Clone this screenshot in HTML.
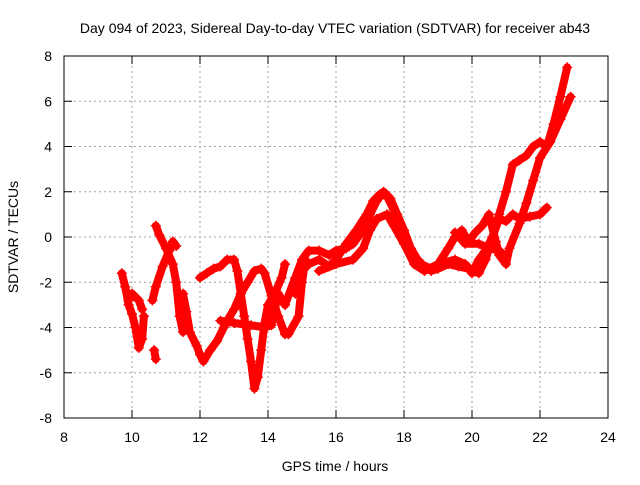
<!DOCTYPE html>
<html><head><meta charset="utf-8"><style>
body{margin:0;background:#fff;}
svg text{font-family:"Liberation Sans",sans-serif;font-size:14px;fill:#000;}
</style></head><body>
<svg id="chart" width="640" height="480" xmlns="http://www.w3.org/2000/svg">
<rect width="640" height="480" fill="#fff"/>
<g id="grid"></g>
<g id="series"></g>
<rect x="64" y="56" width="544" height="362" fill="none" stroke="#000" stroke-width="1"/>
<g id="ticks"></g>
<text x="335" y="33" text-anchor="middle">Day 094 of 2023, Sidereal Day-to-day VTEC variation (SDTVAR) for receiver ab43</text>
<text x="335" y="471" text-anchor="middle">GPS time / hours</text>
<text transform="translate(18,237) rotate(-90)" text-anchor="middle">SDTVAR / TECUs</text>
</svg>
<script>
const xTicks=[8,10,12,14,16,18,20,22,24];
const yTicks=[-8,-6,-4,-2,0,2,4,6,8];
const track1=[[9.7,-1.6],[9.8,-2.2],[9.9,-3],[10.0,-3.4],[10.1,-4.0],[10.2,-4.9],[10.3,-4.5],[10.35,-3.5]];
const track2=[[9.9,-2.8],[10.0,-2.5],[10.2,-2.8],[10.3,-3.2]];
const track3=[[10.6,-2.8],[10.7,-2.2],[10.9,-1.3],[11.1,-0.6],[11.2,-0.2],[11.3,-0.4]];
const track4=[[10.7,0.5],[10.8,0.1],[11.0,-0.5],[11.2,-1.2],[11.3,-2.0],[11.4,-3.5],[11.5,-4.2]];
const track5=[[10.65,-5.0],[10.7,-5.4]];
const track6=[[11.5,-2.5],[11.6,-3.3],[11.7,-4.2],[11.9,-4.8],[12.0,-5.2],[12.1,-5.5],[12.3,-5.0],[12.5,-4.6],[12.7,-4.0],[12.8,-3.7],[13.0,-3.2],[13.2,-2.5],[13.4,-2.0],[13.6,-1.5],[13.8,-1.4],[13.9,-1.6],[14.1,-2.6],[14.3,-3.5],[14.5,-4.3]];
const track7=[[12.0,-1.8],[12.2,-1.6],[12.4,-1.4],[12.6,-1.3],[12.8,-1.0],[13.0,-1.0],[13.1,-1.5],[13.2,-2.5],[13.3,-3.5],[13.4,-4.5],[13.5,-5.5],[13.6,-6.7],[13.7,-6.2],[13.8,-5.0],[13.9,-3.8],[14.0,-3.0],[14.2,-2.5],[14.4,-1.8],[14.5,-1.2]];
const track8=[[12.6,-3.7],[13.0,-3.8],[13.5,-3.9],[13.9,-4.0],[14.1,-3.9],[14.3,-2.5],[14.5,-3.0]];
const track9=[[14.5,-3.0],[14.8,-1.8],[15.0,-1.0],[15.2,-0.6],[15.5,-0.6],[15.8,-0.8],[16.0,-0.6],[16.3,-0.5],[16.5,-0.3],[16.8,0.3],[17.0,1.0],[17.2,1.6],[17.4,2.0],[17.6,1.7],[17.8,1.0],[18.0,0.3],[18.2,-0.5],[18.4,-1.0],[18.6,-1.3],[18.8,-1.5],[19.0,-1.4],[19.3,-1.2],[19.6,-1.3],[19.9,-1.4],[20.0,-1.6],[20.2,-1.0],[20.4,-0.6],[20.6,0],[20.8,1],[21.0,2],[21.2,3.2],[21.4,3.4],[21.6,3.6],[21.8,4.0],[22.0,4.2],[22.2,4.0],[22.4,5.0],[22.6,6.2],[22.8,7.5]];
const track10=[[14.8,-2.5],[15.0,-1.5],[15.2,-1.2],[15.5,-1.0],[15.8,-1.3],[16.0,-1.0],[16.3,-0.3],[16.6,0.3],[16.9,1.0],[17.1,1.6],[17.3,1.9],[17.5,1.8],[17.7,1.2],[17.9,0.5],[18.1,-0.3],[18.3,-1.0],[18.5,-1.2],[18.8,-1.4],[19.0,-1.2],[19.3,-0.5],[19.5,0.0],[19.7,0.3],[19.9,-0.2],[20.1,0.2],[20.3,0.5],[20.5,1.0],[20.7,-0.2],[20.8,-0.8],[21.0,-1.2],[21.1,-0.5],[21.4,0.6],[21.6,1.5],[21.8,2.5],[22.0,3.5],[22.3,4.2],[22.6,5.2],[22.9,6.2]];
const track11=[[15.5,-1.5],[16.0,-1.2],[16.5,-1.0],[16.8,-0.5],[17.0,0.3],[17.2,0.8],[17.5,1.0],[17.7,0.5],[18.0,-0.3],[18.3,-1.2],[18.6,-1.5],[19.0,-1.2],[19.5,-1.0],[19.8,-1.2],[20.0,-1.5],[20.2,-1.6],[20.4,-1.0],[20.6,0],[20.8,0.8],[21.0,0.7],[21.2,1.0],[21.4,0.8],[21.7,0.9],[22.0,1.0],[22.2,1.3]];
const track12=[[19.5,0.2],[19.8,-0.3],[20.2,-0.3],[20.5,-0.5],[20.8,-0.6],[21.0,-0.9]];
const track13=[[14.6,-4.3],[14.9,-3.5],[15.0,-2.0],[15.1,-1.0]];
const tracks=[track1,track2,track3,track4,track5,track6,track7,track8,track9,track10,track11,track12,track13];

const NS="http://www.w3.org/2000/svg";
function xs(h){return 64+(h-8)*34;}
function ys(v){return 56+(8-v)*22.625;}
const grid=document.getElementById('grid'),ticks=document.getElementById('ticks'),ser=document.getElementById('series');
function mk(tag,attrs,parent){const e=document.createElementNS(NS,tag);for(const k in attrs)e.setAttribute(k,attrs[k]);parent.appendChild(e);return e;}
xTicks.forEach(t=>{
  const x=xs(t);
  if(t>8&&t<24){const g=mk('line',{x1:x,x2:x,y1:56,y2:418,stroke:'#a0a0a0','stroke-dasharray':'2,3'},grid);
  
  }
  const l=mk('line',{x1:x,x2:x,y1:418,y2:410,stroke:'#000'},ticks);
  
  
  const l2=mk('line',{x1:x,x2:x,y1:56,y2:64,stroke:'#000'},ticks);
  
  
  const tx=mk('text',{x:x,y:442,'text-anchor':'middle'},ticks);tx.textContent=t;
  
  
});
yTicks.forEach(t=>{
  const y=ys(t);
  if(t>-8&&t<8){const g=mk('line',{x1:64,x2:608,y1:y,y2:y,stroke:'#a0a0a0','stroke-dasharray':'2,3'},grid);
  
  }
  const l=mk('line',{x1:64,x2:72,y1:y,y2:y,stroke:'#000'},ticks);
  
  
  const l2=mk('line',{x1:600,x2:608,y1:y,y2:y,stroke:'#000'},ticks);
  
  
  const tx=mk('text',{x:52,y:y+5,'text-anchor':'end'},ticks);tx.textContent=t;
  
  
});
tracks.forEach(tr=>{
  const p=mk('polyline',{points:tr.map(d=>xs(d[0])+','+ys(d[1])).join(' '),fill:'none',stroke:'#ff0000','stroke-width':8,'stroke-linejoin':'round','stroke-linecap':'round'},ser);
  
  
  tr.forEach(d=>{
    const x=xs(d[0]),y=ys(d[1]);
    const m=mk('path',{d:`M${x-5},${y}H${x+5}M${x},${y-5}V${y+5}`,stroke:'#ff0000','stroke-width':1.5},ser);
    
    
  });
});
</script>
</body></html>
